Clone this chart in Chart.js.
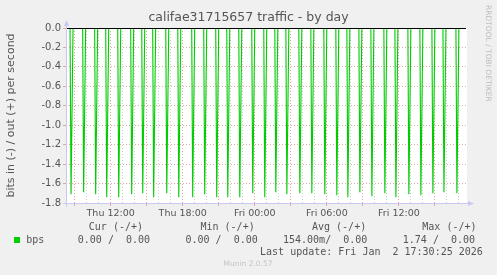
<!DOCTYPE html>
<html><head><meta charset="utf-8">
<script src="https://cdn.jsdelivr.net/npm/chart.js@4/dist/chart.umd.min.js"></script>
<style>html,body{margin:0;padding:0;background:#f0f0f0;overflow:hidden}</style>
</head><body>
<canvas id="c" width="497" height="275"></canvas>
<script>
// ---- data ----
const chartTitle = 'califae31715657 traffic - by day';
const yAxisTitle = 'bits in (-) / out (+) per second';
const seriesName = 'bps';
// hours since Thu 00:00 of each traffic burst, and the inbound value (bps, drawn negative)
const spikeHours = [8.70, 9.75, 10.75, 11.67, 12.67, 13.75, 14.67, 15.58, 16.67, 17.67, 18.83,
  19.83, 20.83, 21.75, 22.75, 23.83, 24.83, 25.75, 26.67, 27.75, 28.75, 29.83, 30.83, 31.75,
  32.75, 33.75, 34.83, 35.75, 36.83, 37.83, 38.83, 39.75, 40.83];
const spikeValues = [1.71, 1.69, 1.71, 1.74, 1.74, 1.71, 1.70, 1.74, 1.70, 1.74, 1.74,
  1.71, 1.74, 1.74, 1.74, 1.70, 1.74, 1.69, 1.71, 1.70, 1.70, 1.71, 1.72, 1.74,
  1.69, 1.73, 1.70, 1.74, 1.71, 1.72, 1.70, 1.69, 1.70];
const sampleStep = 5 / 60;      // 5-minute samples
const xMin = 8.28, xMax = 41.67; // visible window (hours since Thu 00:00)
const lastSample = 41.5;
const yMin = -1.8, yMax = 0;
const dayNames = ['Thu', 'Fri'];
const legendHeaders = ['Cur (-/+)', 'Min (-/+)', 'Avg (-/+)', 'Max (-/+)'];
const legendValues = ['0.00 /  0.00', '0.00 /  0.00', '154.00m/  0.00', '1.74 /  0.00'];
const lastUpdate = 'Last update: Fri Jan  2 17:30:25 2026';
const footerText = 'Munin 2.0.57';
const watermark = 'RRDTOOL / TOBI OETIKER';

// ---- build series (zero samples around each burst) ----
const points = [{x: xMin, y: 0}];
spikeHours.forEach((h, i) => {
  points.push({x: h - sampleStep, y: 0});
  points.push({x: h, y: -spikeValues[i]});
  points.push({x: h + 2 * sampleStep, y: 0});
});
points.push({x: lastSample, y: 0});

const TXT = '#555555';
const MAJOR = '#e4a4a4';
const MINOR = '#cdcdcd';
const AXIS = '#c8c8f0';
const GREEN = '#00cc00';

const decor = {
  id: 'decor',
  beforeDraw(chart) {
    const {ctx, chartArea: a} = chart;
    ctx.save();
    ctx.fillStyle = '#f0f0f0';
    ctx.fillRect(0, 0, chart.width, chart.height);
    ctx.fillStyle = '#ffffff';
    ctx.fillRect(a.left, a.top, a.right - a.left, a.bottom - a.top);
    ctx.restore();
  },
  afterDatasetsDraw(chart) {
    const {ctx, chartArea: a, scales} = chart;
    const y0 = Math.round(scales.y.getPixelForValue(0)) + 0.5;
    ctx.save();
    ctx.strokeStyle = '#000000';
    ctx.lineWidth = 1;
    ctx.beginPath(); ctx.moveTo(a.left, y0); ctx.lineTo(a.right - 1, y0); ctx.stroke();
    ctx.restore();
  },
  afterDraw(chart) {
    const {ctx, chartArea: a} = chart;
    ctx.save();
    // axis lines + arrows
    ctx.strokeStyle = AXIS; ctx.fillStyle = AXIS; ctx.lineWidth = 1;
    const lx = a.left + 0.5, by = a.bottom + 0.5;
    ctx.beginPath(); ctx.moveTo(lx, a.top - 4); ctx.lineTo(lx, by + 3); ctx.stroke();
    ctx.beginPath(); ctx.moveTo(a.left - 3, by); ctx.lineTo(a.right + 3, by); ctx.stroke();
    ctx.beginPath(); ctx.moveTo(lx - 2.5, a.top - 2); ctx.lineTo(lx + 2.5, a.top - 2); ctx.lineTo(lx, a.top - 8); ctx.closePath(); ctx.fill();
    ctx.beginPath(); ctx.moveTo(a.right + 1, by - 2.5); ctx.lineTo(a.right + 1, by + 2.5); ctx.lineTo(a.right + 7, by); ctx.closePath(); ctx.fill();

    // legend
    ctx.fillStyle = TXT;
    ctx.font = '10px "DejaVu Sans Mono"';
    ctx.textBaseline = 'middle';
    ctx.textAlign = 'left';
    const hx = [88.8, 200.5, 312, 422.3];
    const vx = [77.8, 185.5, 283, 402.8];
    legendHeaders.forEach((t, i) => ctx.fillText(t, hx[i], 227.5));
    ctx.fillText(seriesName, 26.2, 240.5);
    legendValues.forEach((t, i) => ctx.fillText(t, vx[i], 240.5));
    ctx.textAlign = 'right';
    ctx.fillText(lastUpdate, 482.8, 252.2);
    ctx.fillStyle = GREEN;
    ctx.fillRect(14, 237, 6, 6);

    // footer
    ctx.fillStyle = '#c4c4c4';
    ctx.font = '7.5px "DejaVu Sans"';
    ctx.textAlign = 'center';
    ctx.fillText(footerText, 248, 264);

    // watermark
    ctx.translate(488, 5);
    ctx.rotate(Math.PI / 2);
    ctx.textAlign = 'left';
    ctx.fillStyle = '#bdbdbd';
    ctx.font = '7.5px "DejaVu Sans"';
    ctx.fillText(watermark, 0, 0);
    ctx.restore();
  }
};

function hhLabel(v) {
  const day = dayNames[Math.floor(v / 24)];
  const hh = String(v % 24).padStart(2, '0');
  return day + ' ' + hh + ':00';
}

Chart.defaults.font.family = '"DejaVu Sans"';

new Chart(document.getElementById('c'), {
  type: 'line',
  data: {
    datasets: [{
      label: seriesName,
      data: points,
      borderColor: GREEN,
      backgroundColor: GREEN,
      borderWidth: 1.1,
      pointRadius: 0,
      tension: 0,
      fill: false
    }]
  },
  options: {
    responsive: false,
    animation: false,
    devicePixelRatio: 1,
    layout: {padding: {left: 0, right: 0, top: 0, bottom: 52}},
    plugins: {
      legend: {display: false},
      tooltip: {enabled: false},
      title: {
        display: true, text: chartTitle, color: TXT,
        font: {size: 12.5, weight: 'normal', family: '"DejaVu Sans"'},
        padding: {top: 10.5, bottom: 2.5}
      }
    },
    scales: {
      x: {
        type: 'linear', position: 'bottom', min: xMin, max: xMax,
        afterFit(s) { s.height = 20; },
        ticks: {
          stepSize: 1, includeBounds: false, autoSkip: false, maxRotation: 0, minRotation: 0,
          color: TXT, font: {size: 9.5}, padding: 2,
          callback: v => (v % 6 === 0 ? hhLabel(v) : '')
        },
        grid: {
          color: c => (c.tick && c.tick.value % 3 === 0 ? MAJOR : MINOR),
          tickColor: c => (c.tick && c.tick.value % 3 === 0 ? MAJOR : 'rgba(0,0,0,0)'),
          tickLength: 3, lineWidth: 1
        },
        border: {display: false, dash: [1, 2]}
      },
      y: {
        type: 'linear', position: 'left', min: yMin, max: yMax,
        afterFit(s) { s.width = 66; },
        ticks: {
          stepSize: 0.1, color: TXT, font: {size: 10}, padding: 2,
          callback: v => (Math.round(v * 10) % 2 === 0 ? (Math.abs(v) < 1e-9 ? 0 : v).toFixed(1) : '')
        },
        grid: {
          color: c => (c.tick && Math.round(c.tick.value * 10) % 2 === 0 ? MAJOR : MINOR),
          tickColor: c => (c.tick && Math.round(c.tick.value * 10) % 2 === 0 ? MAJOR : 'rgba(0,0,0,0)'),
          tickLength: 3, lineWidth: 1
        },
        border: {display: false, dash: [1, 2]},
        title: {
          display: true, text: yAxisTitle, color: TXT,
          font: {size: 11, family: '"DejaVu Sans"'}, padding: {top: 4.4, bottom: 0}
        }
      },
      y2: {
        type: 'linear', position: 'right', display: true,
        afterFit(s) { s.width = 30; },
        ticks: {display: false},
        grid: {display: false, drawTicks: false},
        border: {display: false}
      }
    }
  },
  plugins: [decor]
});
</script>
</body></html>
